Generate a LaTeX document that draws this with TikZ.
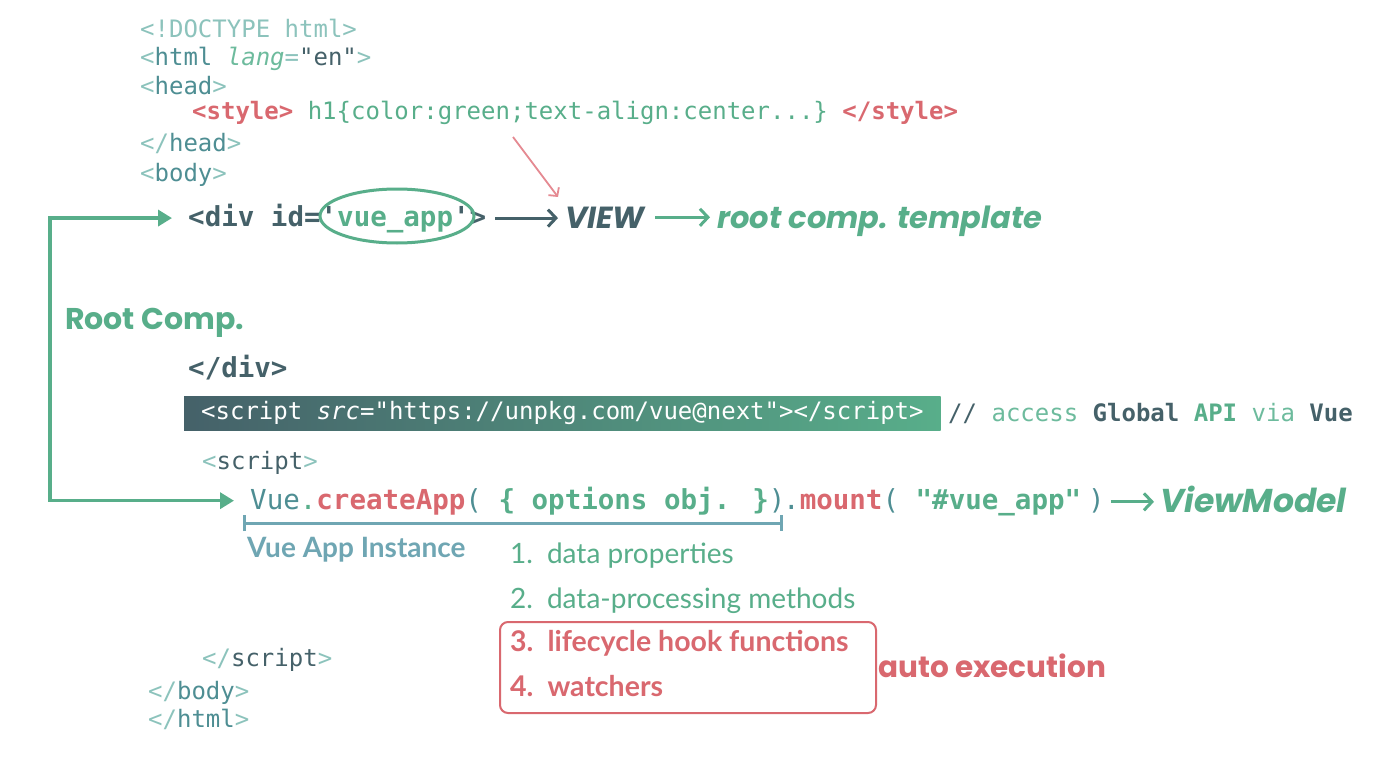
\documentclass[tikz,border=0pt]{standalone}
\usepackage{fontspec}
\usetikzlibrary{arrows.meta,shapes.geometric}
\newfontfamily\code{DejaVu Sans Mono}
\newfontfamily\lato{Lato}
\newfontfamily\pop{Poppins}
\definecolor{cLt}{HTML}{8CC3BC}
\definecolor{cTag}{HTML}{4E8E93}
\definecolor{cAttr}{HTML}{6DBB9D}
\definecolor{cDark}{HTML}{456169}
\definecolor{cGreen}{HTML}{58AE8A}
\definecolor{cRed}{HTML}{D9686F}
\definecolor{cBlue}{HTML}{6FA6B3}
\definecolor{cPink}{HTML}{E58A92}
\tikzset{
  codeA/.style={anchor=base west, inner sep=0pt, font=\code\fontsize{24}{28}\selectfont},
  codeB/.style={anchor=base west, inner sep=0pt, font=\code\fontsize{27.5}{32}\selectfont},
  sansB/.style={anchor=base west, inner sep=0pt, font=\pop\bfseries\fontsize{30}{34}\selectfont},
  sansBI/.style={anchor=base west, inner sep=0pt, font=\pop\bfseries\itshape\fontsize{30.5}{34}\selectfont},
  item/.style={anchor=base west, inner sep=0pt, font=\lato\fontsize{28}{32}\selectfont, text=cGreen},
  itemR/.style={anchor=base west, inner sep=0pt, font=\lato\bfseries\fontsize{28.5}{32}\selectfont, text=cRed},
  barb/.style={line width=3pt, -{Straight Barb[length=8pt,width=17pt]}},
  tri/.style={line width=3.5pt, draw=cGreen, {Triangle[length=14pt,width=16pt]}-{Triangle[length=14pt,width=16pt]}}
}
\begin{document}
\begin{tikzpicture}[x=1pt,y=-1pt]
\useasboundingbox[fill=white] (0,0) rectangle (1400,765);

% HTML head
\node[codeA, text=cLt] (doctype) at (140,38) {<!DOCTYPE html>};
\node[codeA] (htmlopen) at (140,66) {\color{cLt}<\color{cTag}html \color{cAttr}\itshape lang\upshape\color{cLt}=\color{cDark}"en"\color{cLt}>};
\node[codeA] (headopen) at (140,95) {\color{cLt}<\color{cTag}head\color{cLt}>};
\node[codeA] (style) at (192,120) {\textbf{\color{cRed}<style>}\ \color{cGreen}h1\{color:green;text-align:center...\}\ \textbf{\color{cRed}</style>}};
\node[codeA] (headclose) at (140,151) {\color{cLt}</\color{cTag}head\color{cLt}>};
\node[codeA] (bodyopen) at (140,181) {\color{cLt}<\color{cTag}body\color{cLt}>};

% div line
\node[codeB, text=cDark] (div) at (188,226) {\textbf{<div id='\color{cGreen}vue\_app\color{cDark}'>}};
\node[ellipse, draw=cGreen, line width=3pt, minimum width=154pt, minimum height=54pt, inner sep=0pt] (ring) at (397,216) {};
\node[sansBI, text=cDark] (view) at (565,228) {VIEW};
\node[sansBI, text=cGreen] (tpl) at (717,228) {root comp. template};
\draw[barb, draw=cDark, shorten <=9pt, shorten >=7pt] (div.east) -- (view.west |- div.east);
\draw[barb, draw=cGreen, shorten <=10pt, shorten >=7pt] (view.east) -- (tpl.west |- view.east);
\coordinate (ptrS) at (513,137);
\coordinate (ptrE) at (558,197);
\draw[line width=1.8pt, draw=cPink, -{Straight Barb[length=6pt,width=13pt]}] (ptrS) -- (ptrE);

% Root comp
\node[sansB, text=cGreen] (root) at (65,329) {Root Comp.};
\node[codeB, text=cDark] (divclose) at (188,377) {\textbf{</div>}};

% script band
\node[anchor=west, inner xsep=17pt, inner ysep=0pt, minimum height=34pt, left color=cDark, right color=cGreen,
      font=\code\fontsize{24}{28}\selectfont, text=white] (band) at (184,413)
      {<script \itshape src\upshape="https://unpkg.com/vue@next"></script>};
\node[codeA] (comment) at (948,421) {\color{cDark}//\ \color{cAttr}access\ \textbf{\color{cDark}Global}\ \textbf{\color{cGreen}API}\ \color{cAttr}via\ \textbf{\color{cDark}Vue}};
\node[codeA] (scriptopen) at (202,469) {\color{cLt}<\color{cDark}script\color{cLt}>};

% createApp line
\node[codeB] (create) at (250,509) {\color{cTag}Vue\color{cGreen}.\textbf{\color{cRed}createApp}\color{cTag}(\ \textbf{\color{cGreen}\{ options obj. \}}\color{cTag})};
\node[codeB] (mount) at (783,509) {\color{cTag}.\textbf{\color{cRed}mount}\color{cTag}(\ \textbf{\color{cGreen}"\#vue\_app"}\hspace{7pt}\color{cTag})};
\node[sansBI, text=cGreen, font=\pop\bfseries\itshape\fontsize{33}{36}\selectfont] (vm) at (1160,512) {ViewModel};
\draw[barb, draw=cGreen, shorten <=6pt, shorten >=6pt] (mount.east) -- (vm.west |- mount.east);

% L connector
\coordinate (lx) at (50,0);
\draw[tri, shorten <=16pt, shorten >=16pt] (div.west) -- (div.west -| lx) -- (create.west -| lx) -- (create.west);

% bracket
\coordinate (brL) at (243,523);
\coordinate (brR) at (783,523);
\draw[draw=cBlue, line width=3pt, {Bar[width=16pt]}-{Bar[width=16pt]}] (brL) -- (brR);
\node[anchor=base west, inner sep=0pt, font=\lato\bfseries\fontsize{28}{30}\selectfont, text=cBlue] (inst) at (247,557) {Vue App Instance};

% options list
\node[item] (i1) at (510,563) {1.\hspace{14pt}data properties};
\node[item] (i2) at (510,608) {2.\hspace{14pt}data-processing methods};
\node[draw=cRed, line width=2pt, rounded corners=8pt, minimum width=376pt, minimum height=91pt, anchor=north west, inner sep=0pt] (autobox) at (499,621) {};
\node[itemR] (i3) at (510,651) {3.\hspace{14pt}lifecycle hook functions};
\node[itemR] (i4) at (510,696) {4.\hspace{14pt}watchers};
\node[sansB, text=cRed, font=\pop\bfseries\fontsize{29.5}{34}\selectfont] (auto) at (878,677) {auto execution};

% closing tags
\node[codeA] (scriptclose) at (202,666) {\color{cLt}</\color{cDark}script\color{cLt}>};
\node[codeA] (bodyclose) at (148,699) {\color{cLt}</\color{cTag}body\color{cLt}>};
\node[codeA] (htmlclose) at (148,727) {\color{cLt}</\color{cTag}html\color{cLt}>};
\end{tikzpicture}
\end{document}
